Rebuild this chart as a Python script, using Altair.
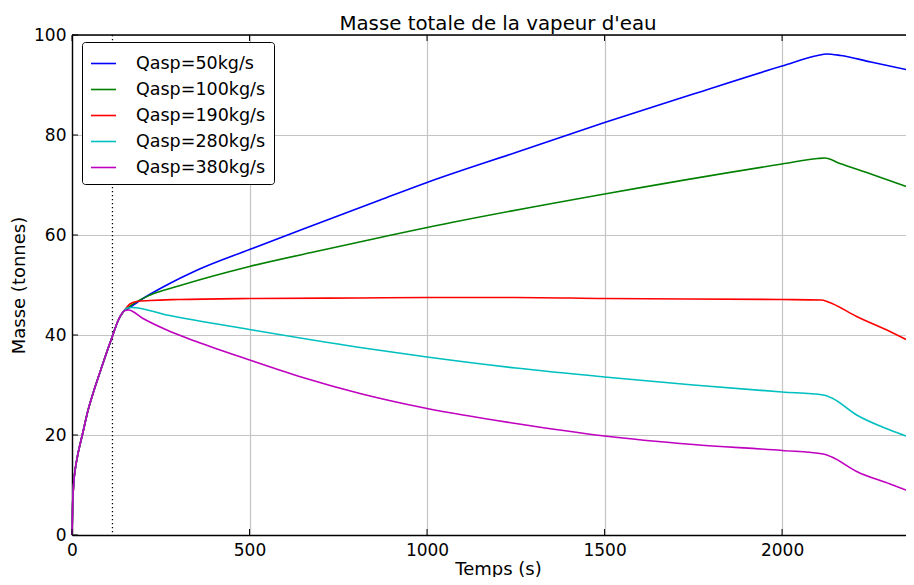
import altair as alt
import pandas as pd

# ---- data ----
series_names = ["Qasp=50kg/s", "Qasp=100kg/s", "Qasp=190kg/s", "Qasp=280kg/s", "Qasp=380kg/s"]
series_colors = ["#0000ff", "#008000", "#ff0000", "#00bfbf", "#bf00bf"]

# common rising part (all series identical)
t_common = [0, 2, 5, 10, 15, 30, 45, 60, 80, 100, 114, 130, 145]
m_common = [0, 6.5, 10.5, 13.6, 15.6, 20.3, 24.9, 28.5, 32.8, 37.0, 39.8, 42.9, 44.7]

t_50 = [160, 200, 267, 350, 500, 700, 868, 1000, 1250, 1500, 1750, 2000, 2100, 2125, 2165, 2250, 2349]
m_50 = [45.4, 47.3, 50, 52.9, 57.1, 62.5, 67, 70.5, 76.5, 82.5, 88.2, 93.8, 95.9, 96.2, 95.9, 94.6, 93.1]

t_100 = [160, 220, 300, 500, 700, 868, 1000, 1500, 2000, 2100, 2120, 2163, 2250, 2349]
m_100 = [45.6, 48, 49.8, 53.7, 56.9, 59.5, 61.5, 68.2, 74.2, 75.3, 75.4, 74.3, 72.2, 69.7]

t_190 = [155, 163, 182, 220, 300, 500, 811, 1000, 1250, 1500, 2000, 2110, 2130, 2210, 2304, 2349]
m_190 = [45.6, 46.2, 46.7, 46.9, 47.1, 47.3, 47.4, 47.5, 47.5, 47.3, 47.1, 47.0, 46.6, 43.7, 40.7, 39.1]

t_280 = [155, 168, 267, 500, 811, 1000, 1250, 1500, 1750, 2000, 2116, 2140, 2210, 2304, 2349]
m_280 = [45.4, 45.5, 44, 41.1, 37.5, 35.6, 33.4, 31.6, 30.0, 28.6, 28.0, 27.4, 24.0, 21.0, 19.8]

t_380 = [150, 159, 200, 267, 350, 500, 650, 811, 1000, 1250, 1500, 1750, 2000, 2116, 2140, 2210, 2304, 2349]
m_380 = [44.9, 45.0, 43.3, 41, 38.7, 35, 31.5, 28.3, 25.3, 22.3, 19.8, 18.1, 16.9, 16.2, 15.6, 12.7, 10.2, 9.0]

x_ticks = [0, 500, 1000, 1500, 2000]
y_ticks = [0, 20, 40, 60, 80, 100]
t_marker = [114]

t_series = [t_50, t_100, t_190, t_280, t_380]
m_series = [m_50, m_100, m_190, m_280, m_380]

W, H = 834, 500
X_MAX = 2349
FONT = "DejaVu Sans"

rows = []
for name, ts, ms in zip(series_names, t_series, m_series):
    for t, m in zip(t_common + ts, m_common + ms):
        rows.append({"t": t, "m": m, "serie": name})
df = pd.DataFrame(rows)

xscale = alt.Scale(domain=[0, X_MAX], nice=False, zero=False)
yscale = alt.Scale(domain=[0, 100], nice=False)
cscale = alt.Scale(domain=series_names, range=series_colors)

x_axis = alt.Axis(values=x_ticks, format="d", grid=True, gridColor="#c4c4c4", gridWidth=1.2,
                  tickSize=0, domainColor="#000000", domainWidth=1.4, labelFontSize=17,
                  labelPadding=7, labelColor="#000000", labelFlush=False, titleFontSize=18,
                  titleFontWeight="normal", titleColor="#000000", titlePadding=2, titleX=426,
                  labelFont=FONT, titleFont=FONT)
y_axis = alt.Axis(values=y_ticks, format="d", grid=True, gridColor="#c4c4c4", gridWidth=1.2,
                  tickSize=0, domainColor="#000000", domainWidth=1.4, labelFontSize=17,
                  labelPadding=6, labelColor="#000000", labelFlush=False, titleFontSize=18,
                  titleFontWeight="normal", titleColor="#000000", titlePadding=5,
                  labelFont=FONT, titleFont=FONT)

legend = alt.Legend(orient="none", legendX=10, legendY=7, fillColor="#ffffff",
                    strokeColor="#000000", padding=8, cornerRadius=3,
                    symbolType="stroke", symbolSize=625, symbolStrokeWidth=1.6,
                    labelFontSize=17.5, labelFont=FONT, labelColor="#000000",
                    labelOffset=19, rowPadding=4, labelLimit=400)

layers = []
for i, name in enumerate(series_names):
    layers.append(
        alt.Chart(df).transform_filter(alt.datum.serie == name)
        .mark_line(strokeWidth=1.6, interpolate="monotone")
        .encode(
            x=alt.X("t:Q", scale=xscale, axis=x_axis, title="Temps (s)"),
            y=alt.Y("m:Q", scale=yscale, axis=y_axis, title="Masse (tonnes)"),
            color=alt.Color("serie:N", scale=cscale, legend=legend, title=None),
        )
    )

marker = alt.Chart(pd.DataFrame({"t": t_marker})).mark_rule(
    color="#000000", strokeWidth=1.3, strokeDash=[1.3, 2.7]
).encode(x=alt.X("t:Q", scale=xscale))

xt = pd.DataFrame({"v": x_ticks})
yt = pd.DataFrame({"v": y_ticks})
ticks_bottom = alt.Chart(xt).mark_rule(color="#000000", strokeWidth=1).encode(
    x=alt.X("v:Q", scale=xscale), y=alt.value(H), y2=alt.value(H - 6))
ticks_top = alt.Chart(xt).mark_rule(color="#000000", strokeWidth=1).encode(
    x=alt.X("v:Q", scale=xscale), y=alt.value(0), y2=alt.value(6))
ticks_left = alt.Chart(yt).mark_rule(color="#000000", strokeWidth=1).encode(
    y=alt.Y("v:Q", scale=yscale), x=alt.value(0), x2=alt.value(6))
top_border = alt.Chart(xt.head(1)).mark_rule(color="#000000", strokeWidth=1.6).encode(
    x=alt.value(0), x2=alt.value(W), y=alt.value(0))

chart = alt.layer(marker, *layers, ticks_bottom, ticks_top, ticks_left, top_border).properties(
    width=W, height=H,
    title=alt.TitleParams("Masse totale de la vapeur d'eau", fontSize=19.8, fontWeight="normal",
                          font=FONT, color="#000000", anchor="middle", dx=9, dy=14, offset=6),
    autosize=alt.AutoSizeParams(type="none"),
    padding={"left": 64, "top": 27, "right": 0, "bottom": 42},
).configure_view(stroke=None).configure(background="#ffffff")

chart.save("out.html", embed_options={"renderer": "svg", "actions": False})
